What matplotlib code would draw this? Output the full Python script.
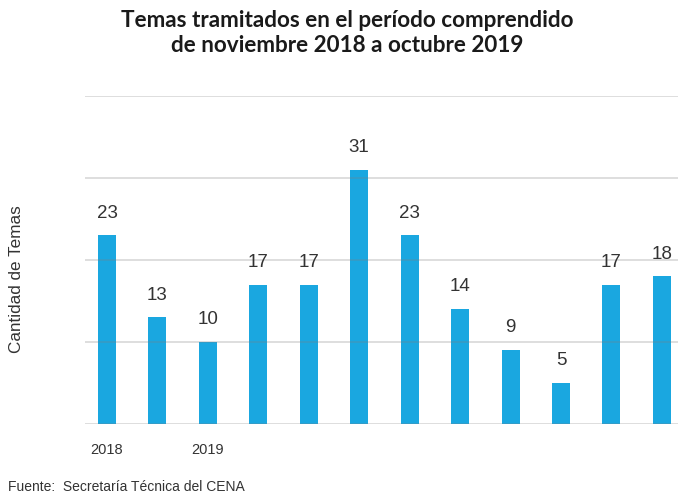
import numpy as np
import matplotlib.pyplot as plt

# monthly counts, nov 2018 -> oct 2019
months = ['nov', 'dic', 'ene', 'feb', 'mar', 'abr', 'may', 'jun', 'jul', 'ago', 'sep', 'oct']
temas = [23, 13, 10, 17, 17, 31, 23, 14, 9, 5, 17, 18]
year_labels = ['2018', '', '2019', '', '', '', '', '', '', '', '', '']

bar_color = '#1aa7e0'
text_color = '#333333'

fig = plt.figure(figsize=(6.78, 4.94), dpi=100)
ax = fig.add_axes([85 / 678, 70 / 494, 1 - 85 / 678, 328 / 494])

x = np.arange(len(temas))
bars = ax.bar(x, temas, width=0.357, color=bar_color, zorder=2)

for b, v in zip(bars, temas):
    ax.annotate(str(v), (b.get_x() + b.get_width() / 2, v),
                xytext=(0, 10), textcoords='offset points',
                ha='center', va='bottom', fontsize=13.5,
                color=text_color, family='Liberation Sans')

ax.set_ylim(0, 40)
ax.set_xlim(-0.436, 11.32)
ax.set_yticks([0, 10, 20, 30, 40])
ax.set_yticklabels([])
ax.yaxis.grid(True, color='#7f7f7f', alpha=0.3, linewidth=1.2, zorder=3)
ax.set_axisbelow(False)
ax.tick_params(axis='y', length=0)

ax.set_xticks(x)
ax.set_xticklabels(year_labels, fontsize=10.5, color=text_color, family='Liberation Sans')
ax.tick_params(axis='x', length=0, pad=14)

for s in ax.spines.values():
    s.set_visible(False)

fig.text(17 / 678, 1 - 279 / 494, 'Cantidad de Temas', rotation=90,
         ha='center', va='center', fontsize=12.3, color=text_color,
         family='Liberation Sans')

fig.text(347 / 678, 1 - 33 / 494,
         'Temas tramitados en el período comprendido\nde noviembre 2018 a octubre 2019',
         ha='center', va='center', fontsize=16.2, fontweight='bold',
         color='#1a1a1a', family='Lato', linespacing=1.25)

fig.text(8 / 678, 1 - 487 / 494, 'Fuente:  Secretaría Técnica del CENA',
         ha='left', va='center', fontsize=10, color=text_color,
         family='Liberation Sans')

plt.savefig('out.png', dpi=100)
